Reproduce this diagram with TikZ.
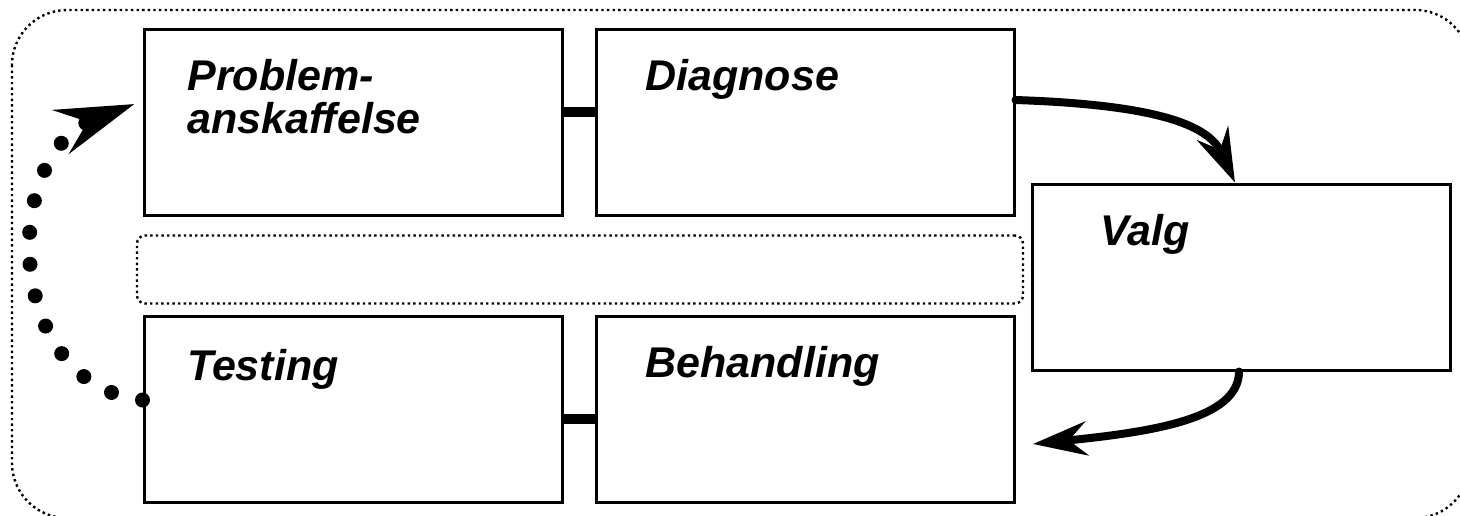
\documentclass[tikz,border=0pt]{standalone}
\usepackage{fontspec}
\setmainfont{Liberation Sans}
\usetikzlibrary{arrows.meta}

\tikzset{
  box/.style={draw,line width=1.5pt,minimum width=209pt,minimum height=93pt,inner sep=0pt},
  lbl/.style={anchor=base west,inner sep=0pt,align=left,font=\fontsize{21.5}{21.5}\selectfont\bfseries\itshape},
  link/.style={line width=5pt},
  flow/.style={line width=4pt,line cap=round,-{Stealth[length=27pt,width=17pt,inset=9pt]}},
  frame/.style={line width=1.2pt,dash pattern=on 1.2pt off 1.6pt},
}

\begin{document}
\begin{tikzpicture}[x=0.5pt,y=-0.5pt]
\clip (0,0) rectangle (1460,515);
% The frame round everything
\draw[frame,rounded corners=27.5pt] (12,10) rectangle (1470,518);
% The five boxes
\foreach \nm/\cx/\cy in {prob/353/122,diag/805/122,valg/1241/277,test/353/409,beh/805/409}
  \node[box] (\nm) at (\cx,\cy) {};
% The empty band between the two rows
\node[draw,frame,rounded corners=4pt,minimum width=443pt,minimum height=34pt] (band) at (580,269.5) {};

% Labels
\node[lbl] at (187,133) {Problem-\\anskaffelse};
\node[lbl] at (645,90) {Diagnose};
\node[lbl] at (1100,245) {Valg};
\node[lbl] at (187,380) {Testing};
\node[lbl] at (645,377) {Behandling};

% Thick links between neighbour boxes
\draw[link] ([yshift=5pt]prob.east) -- ([yshift=5pt]diag.west);
\draw[link] ([yshift=-5pt]test.east) -- ([yshift=-5pt]beh.west);

% Curved arrows round Valg
\coordinate (back) at (1033,444);
\draw[flow] ([yshift=11pt]diag.east) .. controls +(150,5) and +(-25,-55) .. ([xshift=-3pt]valg.north);
\draw[flow] ([xshift=-1pt]valg.south) .. controls +(0,48) and +(117,-12) .. (back);

% Dotted way back to the start
\draw[line width=7.5pt,line cap=round,dash pattern=on 0pt off 16pt,
  -{Stealth[length=39pt,width=23pt,inset=14pt]}]
  ([yshift=4.5pt]test.west) .. controls +(-140,-15) and +(-135,51) .. ([shift={(-8,-18)}]prob.west);
\end{tikzpicture}
\end{document}
